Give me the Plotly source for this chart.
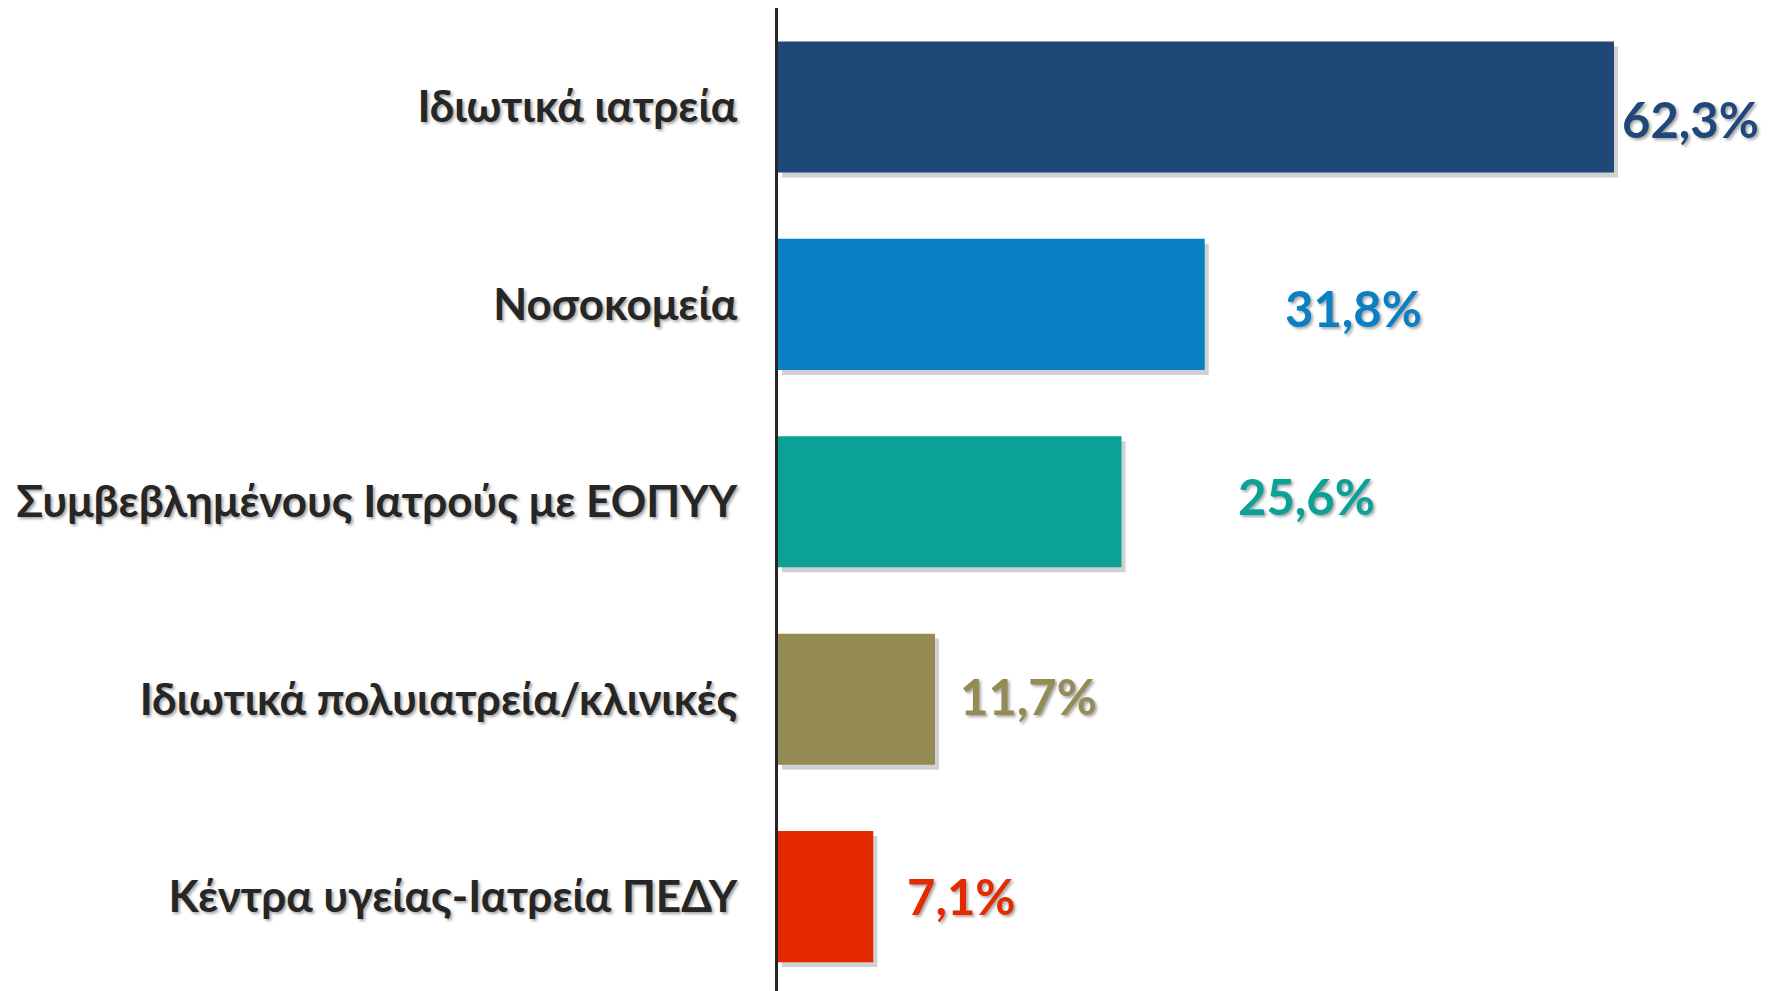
import plotly.graph_objects as go

categories = [
    "Ιδιωτικά ιατρεία",
    "Νοσοκομεία",
    "Συμβεβλημένους Ιατρούς με ΕΟΠΥΥ",
    "Ιδιωτικά πολυιατρεία/κλινικές",
    "Κέντρα υγείας-Ιατρεία ΠΕΔΥ",
]
values = [62.3, 31.8, 25.6, 11.7, 7.1]
value_labels = ["62,3%", "31,8%", "25,6%", "11,7%", "7,1%"]

colors = ["#1F4879", "#0A7FC4", "#0BA196", "#958B55", "#E62A00"]
label_xshift = [6, 78, 114, 23, 32]
label_yshift = [-12, -4, 6, 3, 1]

FONT = "Lato"
TEXT_SHADOW = "2px 2px 3px rgba(0,0,0,0.35)"
BAR_W = 0.664

fig = go.Figure()

# soft drop shadow behind the bars
fig.add_trace(go.Bar(
    y=categories, x=values, orientation="h",
    base=0.3,
    marker=dict(color="rgba(0,0,0,0.18)", line=dict(width=0)),
    width=BAR_W, offset=-BAR_W / 2 + 0.025,
    hoverinfo="skip", showlegend=False,
))

fig.add_trace(go.Bar(
    y=categories, x=values, orientation="h",
    marker=dict(color=colors, line=dict(width=0)),
    width=BAR_W, offset=-BAR_W / 2,
    showlegend=False,
))

for cat, v, lab, c, dx, dy in zip(categories, values, value_labels, colors, label_xshift, label_yshift):
    fig.add_annotation(
        x=v, y=cat, text=f"<b>{lab}</b>", showarrow=False,
        xanchor="left", yanchor="middle", xshift=dx, yshift=dy,
        font=dict(family=FONT, size=49, color=c, shadow=TEXT_SHADOW),
    )

fig.update_layout(
    width=1767, height=983,
    margin=dict(l=770, r=4, t=0, b=0, autoexpand=False),
    paper_bgcolor="white", plot_bgcolor="white",
    barmode="overlay",
    xaxis=dict(range=[0, 74], visible=False, fixedrange=True),
    yaxis=dict(
        categoryorder="array", categoryarray=categories,
        range=[4.478, -0.5015],
        showline=True, linecolor="#262626", linewidth=3,
        showgrid=False, zeroline=False, ticks="",
        ticklabelstandoff=29, automargin=False,
        tickfont=dict(family=FONT, size=44, color="#262626", weight="bold", shadow=TEXT_SHADOW),
    ),
)

fig.write_html("out.html")
